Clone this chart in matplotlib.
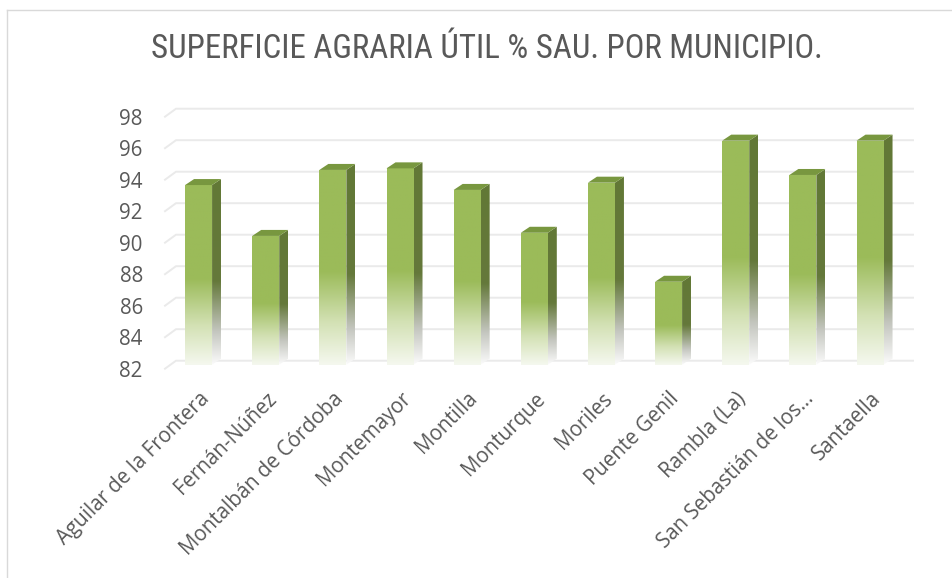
import numpy as np
import matplotlib.pyplot as plt
from matplotlib.colors import LinearSegmentedColormap
from matplotlib.patches import Polygon
from matplotlib.lines import Line2D

# data
municipios = ["Aguilar de la Frontera", "Fernán-Núñez", "Montalbán de Córdoba",
              "Montemayor", "Montilla", "Monturque", "Moriles", "Puente Genil",
              "Rambla (La)", "San Sebastián de los…", "Santaella"]
sau_pct = [93.66, 90.43, 94.62, 94.72, 93.35, 90.63, 93.81, 87.52, 96.48, 94.30, 96.48]
y_ticks = [82, 84, 86, 88, 90, 92, 94, 96, 98]
title = "SUPERFICIE AGRARIA ÚTIL % SAU. POR MUNICIPIO."

W, H = 953, 578
fig = plt.figure(figsize=(W / 100, H / 100), dpi=100)
fig.patch.set_facecolor("white")

# chart frame (only left and top edges are inside the crop)
fig.add_artist(Line2D([6.5 / W, 6.5 / W], [0, 1 - 10 / H], transform=fig.transFigure,
                      color="#d9d9d9", lw=1))
fig.add_artist(Line2D([6.5 / W, 1], [1 - 10 / H, 1 - 10 / H], transform=fig.transFigure,
                      color="#d9d9d9", lw=1))

# plot area, in pixels
left, right = 165, 903.6
y_lo, y_hi = 368.7, 116.7
ax = fig.add_axes([left / W, 1 - y_lo / H, (right - left) / W, (y_lo - y_hi) / H])
ax.patch.set_alpha(0)
for s in ax.spines.values():
    s.set_visible(False)

n = len(municipios)
px_x = (right - left) / n
px_y = (y_lo - y_hi) / (y_ticks[-1] - y_ticks[0])
base = y_ticks[0]

# back wall gridlines with the little slanted floor edge on the left
gx, gy = 11 / px_x, 8 / px_y
for v in y_ticks:
    ax.plot([-0.5, -0.5 + gx, n - 0.5 + 9.4 / px_x], [v, v + gy, v + gy],
            color="#eaeaea", lw=1.4, clip_on=False, zorder=0)

front_cmap = LinearSegmentedColormap.from_list(
    "front", [(0, "#f5f8ef"), (0.22, "#d3e1b4"), (0.48, "#9bbb59"), (1, "#9bbb59")])
side_cmap = LinearSegmentedColormap.from_list(
    "side", [(0, "#fbfbfb"), (0.18, "#c4c6bf"), (0.45, "#65793b"), (1, "#627836")])
grad = np.linspace(0, 1, 256).reshape(-1, 1)

half = 13.5 / px_x
dx, dy = 9 / px_x, 6 / px_y
bar_base = base + 4 / px_y
for i, v in enumerate(sau_pct):
    x0, x1 = i - half, i + half
    front = Polygon([(x0, bar_base), (x1, bar_base), (x1, v), (x0, v)], closed=True,
                    fc="none", ec="none", transform=ax.transData)
    ax.add_patch(front)
    im = ax.imshow(grad, extent=(x0, x1, bar_base, v), origin="lower", cmap=front_cmap,
                   aspect="auto", zorder=2, interpolation="bilinear")
    im.set_clip_path(front)

    side = Polygon([(x1, bar_base), (x1 + dx, bar_base + dy), (x1 + dx, v + dy), (x1, v)],
                   closed=True, fc="none", ec="none", transform=ax.transData)
    ax.add_patch(side)
    im2 = ax.imshow(grad, extent=(x1, x1 + dx, bar_base, v + dy), origin="lower",
                    cmap=side_cmap, aspect="auto", zorder=2, interpolation="bilinear")
    im2.set_clip_path(side)

    ax.add_patch(Polygon([(x0, v), (x1, v), (x1 + dx, v + dy), (x0 + dx, v + dy)],
                         closed=True, fc="#78973f", ec="none", zorder=3, clip_on=False))

ax.set_xlim(-0.5, n - 0.5)
ax.set_ylim(y_ticks[0], y_ticks[-1])

tick_font = dict(family=["Open Sans", "DejaVu Sans"], size=14.8, color="#595959")
ax.set_yticks(y_ticks)
ax.set_yticklabels([str(t) for t in y_ticks], **tick_font)
ax.set_xticks(range(n))
ax.set_xticklabels(municipios, rotation=45, ha="right", va="top",
                   rotation_mode="anchor", **tick_font)
ax.tick_params(axis="y", length=0, pad=16)
ax.tick_params(axis="x", length=0, pad=14)

t = fig.text(150.7 / W, 1 - 58 / H, title, ha="left", va="baseline",
             family=["Roboto Condensed", "Open Sans Condensed", "Liberation Sans Narrow",
                     "DejaVu Sans"],
             fontstretch="condensed", fontsize=20, color="#595959")
fig.canvas.draw()
bb = t.get_window_extent()
t.set_fontsize(20 * 671 / bb.width)

fig.savefig("out.png", dpi=100)
